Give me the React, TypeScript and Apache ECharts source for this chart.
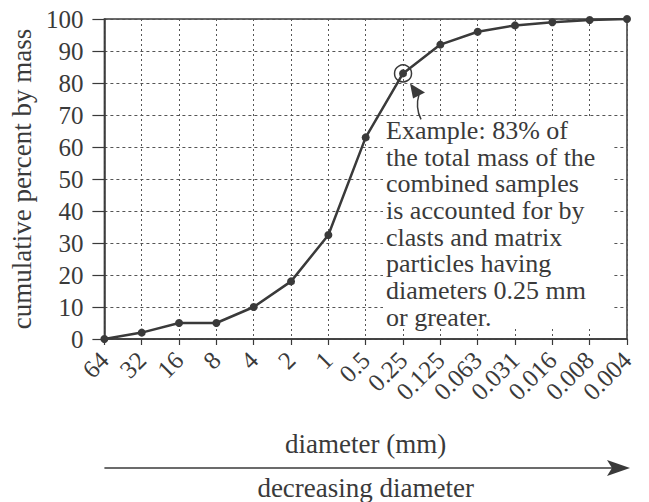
import React, { useEffect, useRef } from "react";
import * as echarts from "echarts";

const diameters = ["64", "32", "16", "8", "4", "2", "1", "0.5", "0.25", "0.125", "0.063", "0.031", "0.016", "0.008", "0.004"];
const cumulativePercent = [0, 2, 5, 5, 10, 18, 32.5, 63, 83, 92, 96, 98, 99, 99.7, 100];
const yMin = 0;
const yMax = 100;
const yInterval = 10;
const highlightDiameter = "0.25";
const highlightPercent = 83;
const annotationLines = [
  "Example: 83% of",
  "the total mass of the",
  "combined samples",
  "is accounted for by",
  "clasts and matrix",
  "particles having",
  "diameters 0.25 mm",
  "or greater.",
];
const xTitle = "diameter (mm)";
const yTitle = "cumulative percent by mass";
const arrowLabel = "decreasing diameter";

const FONT = "'Liberation Serif', 'DejaVu Serif', serif";
const INK = "#3a3a3a";

export default function App() {
  const ref = useRef<HTMLDivElement>(null);
  useEffect(() => {
    document.body.style.margin = "0";
    const chart = echarts.init(ref.current!, null, { renderer: "svg" });
    chart.setOption({
      animation: false,
      backgroundColor: "#ffffff",
      grid: {
        left: 101,
        right: 22,
        top: 19,
        bottom: 163,
        show: true,
        borderColor: INK,
        borderWidth: 1.5,
      },
      xAxis: {
        type: "category",
        data: diameters,
        boundaryGap: false,
        name: xTitle,
        nameLocation: "middle",
        nameGap: 91,
        nameTextStyle: { fontFamily: FONT, fontSize: 27, color: INK },
        axisLine: { lineStyle: { color: INK, width: 1.5 } },
        axisTick: { show: true, length: 6, lineStyle: { color: INK, width: 1.2 } },
        axisLabel: {
          rotate: 45,
          margin: 17,
          fontFamily: FONT,
          fontSize: 25,
          color: INK,
          interval: 0,
        },
        splitLine: { show: true, lineStyle: { color: "#555", width: 1, type: [2, 3] } },
      },
      yAxis: {
        type: "value",
        min: yMin,
        max: yMax,
        interval: yInterval,
        name: yTitle,
        nameLocation: "middle",
        nameGap: 67,
        nameTextStyle: { fontFamily: FONT, fontSize: 27, color: INK },
        axisLine: { show: true, lineStyle: { color: INK, width: 1.5 } },
        axisTick: { show: true, length: 12, lineStyle: { color: INK, width: 1.2 } },
        axisLabel: { margin: 21, fontFamily: FONT, fontSize: 25, color: INK },
        splitLine: { show: true, lineStyle: { color: "#555", width: 1, type: [3, 3] } },
      },
      series: [
        {
          type: "line",
          data: cumulativePercent,
          symbol: "circle",
          symbolSize: 8,
          lineStyle: { color: INK, width: 2.5 },
          itemStyle: { color: INK },
          z: 5,
          markPoint: {
            symbol: "circle",
            symbolSize: 17,
            silent: true,
            label: { show: false },
            itemStyle: { color: "rgba(0,0,0,0)", borderColor: INK, borderWidth: 1.5 },
            data: [{ coord: [highlightDiameter, highlightPercent] }],
          },
        },
      ],
    });

    const p = chart.convertToPixel({ xAxisIndex: 0, yAxisIndex: 0 }, [highlightDiameter, highlightPercent]) as number[];
    const px = p[0];
    const py = p[1];
    const xStart = chart.convertToPixel({ xAxisIndex: 0 }, diameters[0]) as number;
    const xEnd = chart.convertToPixel({ xAxisIndex: 0 }, diameters[diameters.length - 1]) as number;

    chart.setOption({
      graphic: [
        {
          type: "rect",
          z: 10,
          shape: { x: 383, y: 117, width: 231, height: 212 },
          style: { fill: "#ffffff" },
        },
        {
          type: "text",
          z: 11,
          x: 386,
          y: 117,
          style: {
            text: annotationLines.join("\n"),
            font: `26px ${FONT}`,
            lineHeight: 26.7,
            fill: INK,
          },
        },
        {
          type: "bezierCurve",
          z: 12,
          shape: {
            x1: px + 18,
            y1: py + 46,
            x2: px + 16,
            y2: py + 21,
            cpx1: px + 12,
            cpy1: py + 34,
          },
          style: { stroke: INK, lineWidth: 1.5, fill: "none" },
        },
        {
          type: "polygon",
          z: 12,
          shape: {
            points: [
              [px + 7, py + 10],
              [px + 10, py + 25],
              [px + 22, py + 19],
            ],
          },
          style: { fill: INK },
        },
        {
          type: "line",
          z: 10,
          shape: { x1: xStart, y1: 468, x2: xEnd - 10, y2: 468 },
          style: { stroke: INK, lineWidth: 1.5 },
        },
        {
          type: "polygon",
          z: 10,
          shape: {
            points: [
              [xEnd - 20, 460],
              [xEnd + 3, 468],
              [xEnd - 20, 476],
              [xEnd - 15, 468],
            ],
          },
          style: { fill: INK },
        },
        {
          type: "text",
          z: 10,
          x: (xStart + xEnd) / 2,
          y: 488,
          style: {
            text: arrowLabel,
            font: `27px ${FONT}`,
            fill: INK,
            align: "center",
            verticalAlign: "middle",
          },
        },
      ],
    });

    return () => chart.dispose();
  }, []);
  return <div ref={ref} style={{ width: 649, height: 502 }} />;
}
